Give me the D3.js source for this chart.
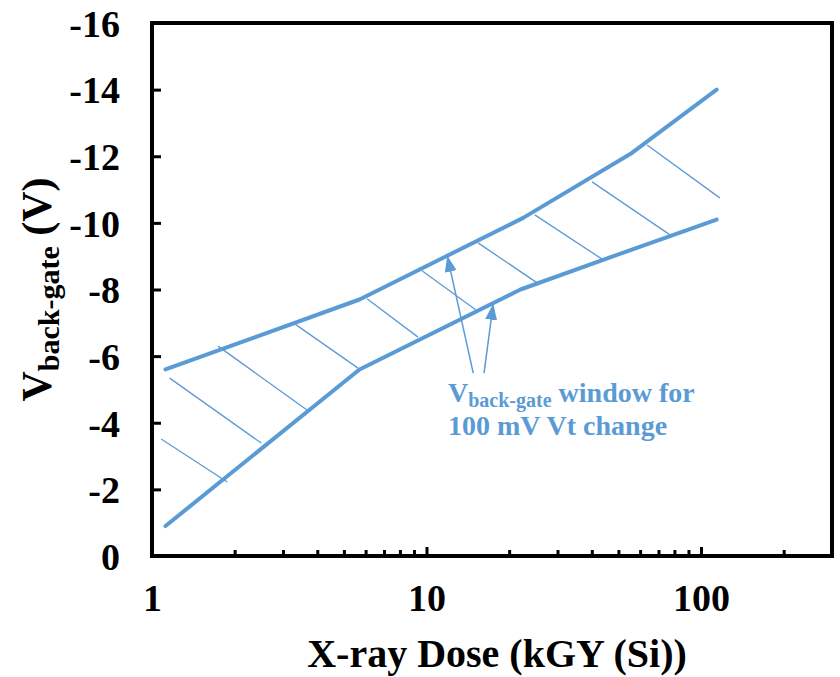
<!DOCTYPE html>
<html>
<head>
<meta charset="utf-8">
<script src="https://cdn.jsdelivr.net/npm/d3@7"></script>
<style>
  body { margin: 0; background: #fff; }
  svg { display: block; }
  text { font-family: "Liberation Serif", "Times New Roman", serif; font-weight: bold; }
</style>
</head>
<body>
<svg id="chart" width="840" height="677"></svg>
<script>
// Back-gate voltage window versus X-ray dose
const upperDose = [1.12, 5.7, 22.5, 56, 114];
const upperV    = [-5.6, -7.7, -10.15, -12.1, -14.0];
const lowerDose = [1.12, 5.7, 22, 56, 114];
const lowerV    = [-0.9, -5.6, -8.0, -9.2, -10.1];

// Hatch strokes across the window: start/end as [dose, V]
const hatchFrom = [[1.08, -3.51], [1.16, -5.34], [1.74, -6.30], [3.32, -6.96], [6.07, -7.72],
                   [9.63, -8.56], [15.4, -9.40], [24.8, -10.24], [40.1, -11.23], [63.6, -12.34]];
const hatchTo   = [[1.88, -2.22], [2.50, -3.39], [3.67, -4.38], [5.63, -5.64], [9.31, -6.57],
                   [15.1, -7.39], [25.3, -8.20], [44.0, -8.89], [77.1, -9.64], [117, -10.75]];

// Annotation arrows: tail and head as [dose, V]
const arrowTail = [[14.8, -5.49], [16.2, -5.49]];
const arrowHead = [[11.9, -9.01], [17.5, -7.57]];

const xTicks = [1, 10, 100];
const xTickLabels = ["1", "10", "100"];
const xMinorTicks = [2, 3, 4, 5, 6, 7, 8, 9, 20, 30, 40, 50, 60, 70, 80, 90, 200];
const yTicks = [0, -2, -4, -6, -8, -10, -12, -14, -16];
const yTickLabels = ["0", "-2", "-4", "-6", "-8", "-10", "-12", "-14", "-16"];

const blue = "#5B9BD5";
const margin = { left: 152, top: 23, right: 8, bottom: 121 };
const W = 840, H = 677;
const iw = W - margin.left - margin.right;
const ih = H - margin.top - margin.bottom;

const svg = d3.select("#chart");
const defs = svg.append("defs");
defs.append("marker")
  .attr("id", "arrowhead")
  .attr("markerUnits", "userSpaceOnUse")
  .attr("viewBox", "0 0 16 12")
  .attr("refX", 16).attr("refY", 6)
  .attr("markerWidth", 16).attr("markerHeight", 12)
  .attr("orient", "auto")
  .append("path")
  .attr("d", "M0,0 L16,6 L0,12 Z")
  .attr("fill", blue);

const g = svg.append("g").attr("transform", `translate(${margin.left},${margin.top})`);

const x = d3.scaleLog().domain([1, 300]).range([0, iw]);
const y = d3.scaleLinear().domain([0, -16]).range([ih, 0]);

// Hatching
g.append("g").selectAll("line")
  .data(hatchFrom.map((p, i) => [p, hatchTo[i]]))
  .join("line")
  .attr("x1", d => x(d[0][0])).attr("y1", d => y(d[0][1]))
  .attr("x2", d => x(d[1][0])).attr("y2", d => y(d[1][1]))
  .attr("stroke", blue).attr("stroke-width", 1.3);

// Window boundaries
const line = d3.line().x(d => x(d[0])).y(d => y(d[1]));
[[upperDose, upperV], [lowerDose, lowerV]].forEach(([ds, vs]) => {
  g.append("path")
    .datum(ds.map((d, i) => [d, vs[i]]))
    .attr("d", line)
    .attr("fill", "none")
    .attr("stroke", blue)
    .attr("stroke-width", 4)
    .attr("stroke-linejoin", "round")
    .attr("stroke-linecap", "round");
});

// Arrows
g.append("g").selectAll("line")
  .data(arrowTail.map((p, i) => [p, arrowHead[i]]))
  .join("line")
  .attr("x1", d => x(d[0][0])).attr("y1", d => y(d[0][1]))
  .attr("x2", d => x(d[1][0])).attr("y2", d => y(d[1][1]))
  .attr("stroke", blue).attr("stroke-width", 1.5)
  .attr("marker-end", "url(#arrowhead)");

// Annotation text
const note = g.append("g").attr("fill", blue);
const t1 = note.append("text").attr("x", x(1) + 296).attr("y", y(-4.62)).attr("font-size", 28);
t1.append("tspan").text("V");
t1.append("tspan").attr("font-size", 20).attr("dy", 5).text("back-gate");
t1.append("tspan").attr("dy", -5).text(" window for");
note.append("text").attr("x", x(1) + 296).attr("y", y(-3.63)).attr("font-size", 28)
  .text("100 mV Vt change");

// Axes
const yAxis = g.append("g")
  .call(d3.axisLeft(y).tickValues(yTicks).tickSize(-9).tickPadding(32)
    .tickFormat((d, i) => yTickLabels[i]));
yAxis.selectAll(".tick line").attr("stroke-width", 3);
yAxis.selectAll(".tick text").attr("font-size", 38).attr("dy", "0.35em")
  .attr("font-family", "Liberation Serif, serif").attr("font-weight", "bold");
yAxis.select(".domain").remove();

const xAxis = g.append("g").attr("transform", `translate(0,${ih})`)
  .call(d3.axisBottom(x).tickValues(xTicks).tickSize(-9).tickPadding(28)
    .tickFormat((d, i) => xTickLabels[i]));
xAxis.selectAll(".tick line").attr("stroke-width", 3);
xAxis.selectAll(".tick text").attr("font-size", 38).attr("dy", "0.71em")
  .attr("font-family", "Liberation Serif, serif").attr("font-weight", "bold");
xAxis.select(".domain").remove();

const xMinor = g.append("g").attr("transform", `translate(0,${ih})`)
  .call(d3.axisBottom(x).tickValues(xMinorTicks).tickSize(-6).tickFormat(""));
xMinor.selectAll(".tick line").attr("stroke-width", 3);
xMinor.select(".domain").remove();

// Plot frame
g.append("rect")
  .attr("width", iw).attr("height", ih)
  .attr("fill", "none").attr("stroke", "#000").attr("stroke-width", 4);

// Axis titles
svg.append("text")
  .attr("x", 497).attr("y", 667)
  .attr("text-anchor", "middle").attr("font-size", 40)
  .text("X-ray Dose (kGY (Si))");

const yt = svg.append("text")
  .attr("transform", `translate(51,${margin.top + ih / 2}) rotate(-90)`)
  .attr("text-anchor", "middle").attr("font-size", 42);
yt.append("tspan").text("V");
yt.append("tspan").attr("font-size", 30).attr("dy", 8).text("back-gate");
yt.append("tspan").attr("dy", -8).text(" (V)");
</script>
</body>
</html>
